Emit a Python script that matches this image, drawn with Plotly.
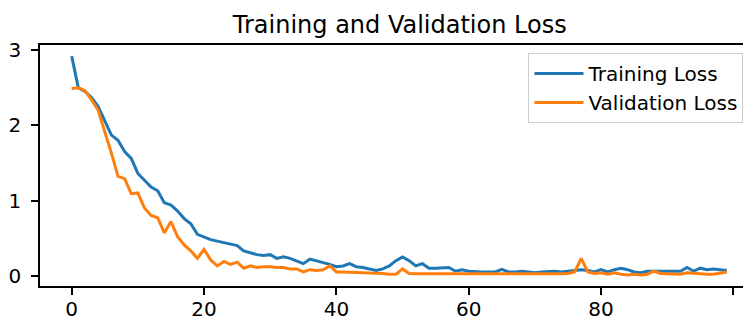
import plotly.graph_objects as go

epochs = list(range(100))

training_loss = [
    2.92, 2.50, 2.45, 2.37, 2.25, 2.07, 1.87, 1.80, 1.65, 1.56,
    1.36, 1.27, 1.18, 1.13, 0.97, 0.94, 0.86, 0.76, 0.69, 0.55,
    0.51, 0.48, 0.46, 0.44, 0.42, 0.40, 0.33, 0.30, 0.28, 0.27,
    0.28, 0.23, 0.25, 0.23, 0.20, 0.16, 0.22, 0.20, 0.18, 0.15,
    0.12, 0.13, 0.16, 0.12, 0.11, 0.085, 0.07, 0.09, 0.13, 0.20,
    0.25, 0.20, 0.13, 0.16, 0.10, 0.10, 0.11, 0.11, 0.06, 0.08,
    0.06, 0.05, 0.05, 0.05, 0.05, 0.085, 0.05, 0.05, 0.06, 0.05,
    0.04, 0.05, 0.06, 0.06, 0.05, 0.06, 0.07, 0.08, 0.07, 0.05,
    0.08, 0.05, 0.08, 0.10, 0.08, 0.05, 0.04, 0.06, 0.06, 0.06,
    0.06, 0.05, 0.06, 0.11, 0.06, 0.10, 0.08, 0.09, 0.08, 0.07,
]

validation_loss = [
    2.49, 2.50, 2.46, 2.34, 2.20, 1.93, 1.63, 1.32, 1.29, 1.09,
    1.10, 0.90, 0.80, 0.77, 0.57, 0.72, 0.52, 0.41, 0.33, 0.23,
    0.35, 0.21, 0.13, 0.19, 0.15, 0.18, 0.10, 0.13, 0.11, 0.12,
    0.12, 0.11, 0.11, 0.09, 0.09, 0.05, 0.08, 0.07, 0.08, 0.13,
    0.05, 0.05, 0.05, 0.04, 0.04, 0.035, 0.035, 0.03, 0.02, 0.02,
    0.09, 0.03, 0.025, 0.025, 0.02, 0.02, 0.025, 0.02, 0.02, 0.025,
    0.02, 0.02, 0.015, 0.02, 0.02, 0.025, 0.02, 0.02, 0.015, 0.02,
    0.02, 0.025, 0.02, 0.02, 0.025, 0.03, 0.05, 0.23, 0.05, 0.03,
    0.04, 0.02, 0.04, 0.02, 0.01, 0.02, 0.01, 0.02, 0.06, 0.03,
    0.03, 0.03, 0.02, 0.04, 0.03, 0.02, 0.02, 0.02, 0.04, 0.05,
]

x_ticks = [0, 20, 40, 60, 80, 100]
y_ticks = [0, 1, 2, 3]

FONT = "DejaVu Sans"

fig = go.Figure()
fig.add_trace(go.Scatter(x=epochs, y=training_loss, mode="lines", name="Training Loss",
                         line=dict(color="#1f77b4", width=3)))
fig.add_trace(go.Scatter(x=epochs, y=validation_loss, mode="lines", name="Validation Loss",
                         line=dict(color="#ff7f0e", width=3)))

# page body has an 8px default margin, so the figure is 743x310
fig.update_layout(
    width=743, height=310,
    margin=dict(l=32, r=0, t=37, b=32, autoexpand=False),
    paper_bgcolor="white", plot_bgcolor="white",
    font=dict(family=FONT, size=20, color="black"),
    title=dict(text="Training and Validation Loss", x=0.506, xref="paper", xanchor="center",
               y=0.948, yref="container", yanchor="middle",
               font=dict(family=FONT, size=24, color="black")),
    legend=dict(x=0.687, y=0.967, xanchor="left", yanchor="top",
                itemwidth=49,
                bgcolor="rgba(255,255,255,0.85)", bordercolor="#cccccc", borderwidth=1,
                font=dict(family=FONT, size=20, color="black")),
    xaxis=dict(range=[-4.79, 102.66], tickvals=x_ticks, ticktext=[str(v) for v in x_ticks],
               automargin=False,
               showgrid=False, zeroline=False, showline=True, mirror=True,
               linecolor="black", linewidth=1.6, ticks="outside", ticklen=7,
               tickwidth=1.6, tickcolor="black", ticklabelstandoff=-3),
    yaxis=dict(range=[-0.137, 3.068], tickvals=y_ticks, ticktext=[str(v) for v in y_ticks],
               automargin=False,
               showgrid=False, zeroline=False, showline=True, mirror=False,
               linecolor="black", linewidth=1.6, ticks="outside", ticklen=7,
               tickwidth=1.6, tickcolor="black", ticklabelstandoff=6),
)

fig.write_html("out.html")
